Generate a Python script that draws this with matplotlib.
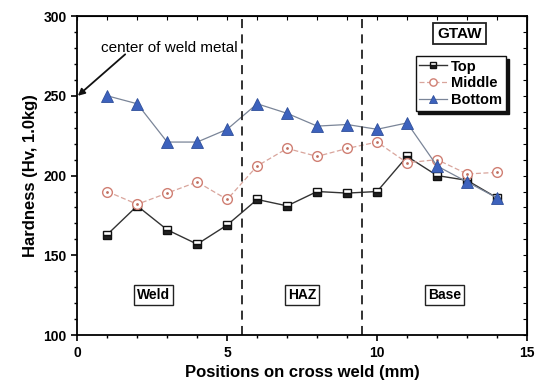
import numpy as np
import matplotlib as mpl
mpl.use('Agg')
import matplotlib.pyplot as plt

plt.rcParams['font.family'] = 'Liberation Sans'
plt.rcParams['font.weight'] = 'bold'

positions = np.arange(1, 15)
top = [163, 181, 166, 157, 169, 185, 181, 190, 189, 190, 212, 200, 197, 186]
middle = [190, 182, 189, 196, 185, 206, 217, 212, 217, 221, 208, 210, 201, 202]
bottom = [250, 245, 221, 221, 229, 245, 239, 231, 232, 229, 233, 206, 196, 186]

zone_bounds = [5.5, 9.5]
zones = ['Weld', 'HAZ', 'Base']
zone_x = [2.55, 7.5, 12.25]

fig = plt.figure(figsize=(5.4, 3.91), dpi=100)
ax = fig.add_axes([0.143, 0.143, 0.833, 0.816])

ax.plot(positions, top, color='#333333', lw=1.0, marker='s', ms=6,
        mfc='#222222', mfcalt='white', fillstyle='bottom', mec='#111111', mew=1.0, label='Top')
ax.plot(positions, middle, color='#d9a59c', lw=0.9, ls=(0, (4, 2)), marker='o', ms=7,
        mfc='white', mec='#d07f73', mew=1.0, label='Middle')
ax.plot(positions, middle, ls='none', marker='.', ms=2, color='#c07060')
ax.plot(positions, bottom, color='#7a8598', lw=0.9, marker='^', ms=8,
        mfc='#3d62bd', mec='#2f4f9a', mew=0.6, label='Bottom')

for xb in zone_bounds:
    ax.axvline(xb, color='#222222', lw=1.3, ls=(0, (5, 3.5)))

for name, xz in zip(zones, zone_x):
    ax.text(xz, 125, name, ha='center', va='center', fontsize=10, fontweight='bold',
            bbox=dict(boxstyle='square,pad=0.2', fc='white', ec='#222222', lw=1.0))

ax.text(12.75, 289, 'GTAW', ha='center', va='center', fontsize=11, fontweight='bold',
        bbox=dict(boxstyle='square,pad=0.25', fc='white', ec='#222222', lw=1.3))

# annotation: text and arrow drawn separately
ax.text(0.78, 280, 'center of weld metal', fontsize=11, fontweight='normal',
        ha='left', va='center')
ax.annotate('', xy=(0.02, 250), xytext=(1.6, 276),
            arrowprops=dict(arrowstyle='-|>', color='#111111', lw=1.3, mutation_scale=10,
                            shrinkA=0, shrinkB=0))

leg = ax.legend(loc='upper right', bbox_to_anchor=(0.953, 0.875), borderaxespad=0,
                fontsize=10.5, frameon=True, fancybox=False, edgecolor='#111111',
                borderpad=0.25, labelspacing=0.2, handlelength=1.9, handletextpad=0.3,
                markerscale=0.75,
                shadow={'color': '#111111', 'alpha': 1.0, 'ox': 2, 'oy': -2})
leg.get_frame().set_linewidth(1.0)

ax.set_xlim(0, 15)
ax.set_ylim(100, 300)
ax.set_xticks([0, 5, 10, 15])
ax.set_yticks([100, 150, 200, 250, 300])
ax.set_xticks(np.arange(0, 16, 1), minor=True)
ax.set_yticks(np.arange(100, 301, 10), minor=True)
ax.tick_params(which='major', direction='out', length=4, width=1.2, labelsize=10)
ax.tick_params(which='minor', direction='out', length=2.5, width=1.0)
for s in ax.spines.values():
    s.set_linewidth(1.3)

sx = ax.secondary_xaxis('top')
sx.set_xticks(np.arange(0, 16, 1))
sx.tick_params(direction='in', length=3, labeltop=False)
sx.set_xticklabels([])
sy = ax.secondary_yaxis('right')
sy.set_yticks(np.arange(100, 301, 10))
sy.tick_params(direction='in', length=3, labelright=False)
sy.set_yticklabels([])

ax.set_xlabel('Positions on cross weld (mm)', fontsize=12, fontweight='bold')
ax.set_ylabel('Hardness (Hv, 1.0kg)', fontsize=12, fontweight='bold')

fig.savefig('out.png', dpi=100)
